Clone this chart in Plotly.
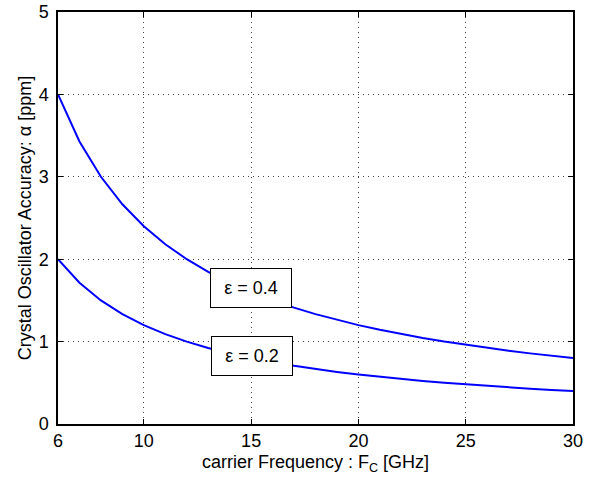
import plotly.graph_objects as go

freq = [6, 7, 8, 9, 10, 11, 12, 13, 14, 15, 16, 17, 18, 19, 20, 21, 22, 23, 24, 25, 26, 27, 28, 29, 30]
alpha_eps04 = [4.0, 3.4286, 3.0, 2.6667, 2.4, 2.1818, 2.0, 1.8462, 1.7143, 1.6, 1.5, 1.4118, 1.3333,
               1.2632, 1.2, 1.1429, 1.0909, 1.0435, 1.0, 0.96, 0.9231, 0.8889, 0.8571, 0.8276, 0.8]
alpha_eps02 = [2.0, 1.7143, 1.5, 1.3333, 1.2, 1.0909, 1.0, 0.9231, 0.8571, 0.8, 0.75, 0.7059, 0.6667,
               0.6316, 0.6, 0.5714, 0.5455, 0.5217, 0.5, 0.48, 0.4615, 0.4444, 0.4286, 0.4138, 0.4]
labels = ["ε = 0.4", "ε = 0.2"]
label_x = [15.0, 15.05]
label_y = [1.65, 0.83]
x_ticks = [6, 10, 15, 20, 25, 30]
y_ticks = [0, 1, 2, 3, 4, 5]

font = "Liberation Sans, Arial, Helvetica, sans-serif"

fig = go.Figure()
for ys in (alpha_eps04, alpha_eps02):
    fig.add_trace(go.Scatter(x=freq, y=ys, mode="lines",
                             line=dict(color="#0000ff", width=2), showlegend=False))

for t, x, y in zip(labels, label_x, label_y):
    fig.add_annotation(x=x, y=y, text=t, showarrow=False,
                       font=dict(family=font, size=18, color="black"),
                       bgcolor="white", bordercolor="black", borderwidth=1,
                       borderpad=9, width=62)

axis_common = dict(showline=True, linecolor="black", linewidth=1.5, mirror="ticks",
                   ticks="inside", ticklen=5, tickcolor="black", automargin=False,
                   showgrid=True, gridcolor="#444444", griddash="1px,4px", gridwidth=1,
                   zeroline=False, tickfont=dict(family=font, size=18, color="black"))

fig.update_xaxes(range=[6, 30], tickvals=x_ticks, **axis_common,
                 title=dict(text="carrier Frequency : F<sub>C</sub> [GHz]",
                            font=dict(family=font, size=18, color="black"), standoff=5))
fig.update_yaxes(range=[0, 5], tickvals=y_ticks, **axis_common, ticklabelstandoff=4,
                 title=dict(text="Crystal Oscillator Accuracy: α [ppm]",
                            font=dict(family=font, size=18, color="black"), standoff=2))

fig.update_layout(width=595, height=483, paper_bgcolor="white", plot_bgcolor="white",
                  margin=dict(l=58, r=22, t=12, b=59))

fig.write_html("out.html", config={"displayModeBar": False},
               post_script="document.body.style.margin='0';")
